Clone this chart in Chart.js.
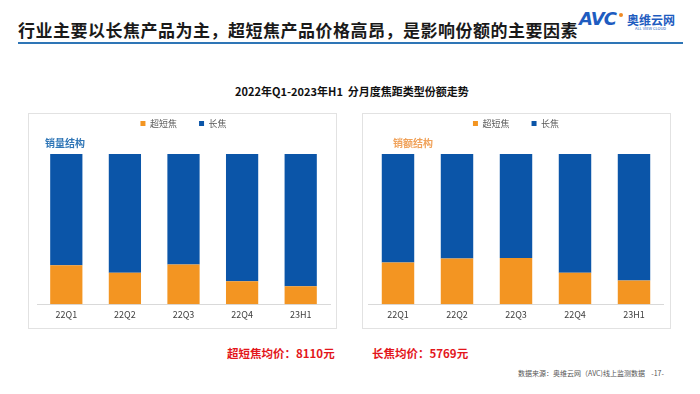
<!DOCTYPE html>
<html>
<head>
<meta charset="utf-8">
<script src="https://cdn.jsdelivr.net/npm/chart.js@4"></script>
<style>
  body { margin: 0; width: 700px; height: 394px; background: #fff; position: relative; overflow: hidden;
         font-family: "Noto Sans CJK SC", "Noto Sans", sans-serif; }
  .abs { position: absolute; white-space: nowrap; }
  .panel { position: absolute; top: 113px; width: 309px; height: 216px; border: 1px solid #e2e2e2; box-sizing: border-box; }
  canvas { position: absolute; }
</style>
</head>
<body>
<div class="abs" style="left:18px;top:17px;font-size:17px;font-weight:bold;color:#1a1a1a;letter-spacing:0.5px;">行业主要以长焦产品为主，超短焦产品价格高昂，是影响份额的主要因素</div>
<div class="abs" style="left:579px;top:8px;font-size:18px;font-weight:bold;font-style:italic;color:#1e5cc0;font-family:'DejaVu Sans';letter-spacing:-1px;">AVC</div>
<div class="abs" style="left:619px;top:13px;width:4px;height:4px;border-radius:2px;background:#f08a24;"></div>
<div class="abs" style="left:627px;top:11px;font-size:12px;font-weight:bold;color:#1e5cc0;">奥维云网</div>
<div class="abs" style="left:635px;top:25px;font-size:4px;color:#1e5cc0;">ALL VIEW CLOUD</div>
<div class="abs" style="left:18px;top:42px;width:665px;height:2px;background:#2e75b6;"></div>

<div class="abs" style="left:0;width:704px;top:83px;text-align:center;font-size:11px;font-weight:bold;color:#111;">2022年Q1-2023年H1&nbsp;&nbsp;分月度焦距类型份额走势</div>

<div class="panel" style="left:28px;"></div>
<div class="panel" style="left:362px;"></div>
<canvas id="volumeChart" width="308" height="220" style="left:29px;top:109px;"></canvas>
<canvas id="amountChart" width="308" height="220" style="left:363px;top:109px;"></canvas>
<div class="abs" style="left:45px;top:135px;font-size:10px;font-weight:bold;color:#2e75b6;">销量结构</div>
<div class="abs" style="left:393px;top:135px;font-size:10px;font-weight:bold;color:#f0a25a;">销额结构</div>

<div class="abs" style="left:227px;top:345px;font-size:11.5px;font-weight:bold;color:#e3161b;">超短焦均价：8110元</div>
<div class="abs" style="left:372px;top:345px;font-size:11.5px;font-weight:bold;color:#e3161b;">长焦均价：5769元</div>
<div class="abs" style="left:518px;top:368px;font-size:7px;color:#555;">数据来源：奥维云网（AVC)线上监测数据&nbsp;&nbsp;&nbsp;&nbsp;-17-</div>

<script>
const periods = ['22Q1', '22Q2', '22Q3', '22Q4', '23H1'];
const seriesNames = ['超短焦', '长焦'];

// share of sales volume, %
const volumeUltraShort = [26.0, 21.0, 26.5, 15.3, 11.9];
const volumeLong = [74.0, 79.0, 73.5, 84.7, 88.1];

// share of sales amount, %
const amountUltraShort = [27.7, 30.4, 30.8, 21.0, 15.8];
const amountLong = [72.3, 69.6, 69.2, 79.0, 84.2];

const ORANGE = '#f39522';
const BLUE = '#0b55a8';

// pushes the plot area down below the legend
const legendGap = {
    id: 'legendGap',
    beforeInit(chart) {
        const fit = chart.legend.fit;
        chart.legend.fit = function () {
            fit.bind(chart.legend)();
            this.height += 16;
        };
    }
};

function drawShareChart(id, shortVals, longVals, padLeft, padRight) {
    const ctx = document.getElementById(id).getContext('2d');
    new Chart(ctx, {
        type: 'bar',
        data: {
            labels: periods,
            datasets: [
                { label: seriesNames[0], data: shortVals, backgroundColor: ORANGE, barPercentage: 0.55, categoryPercentage: 1 },
                { label: seriesNames[1], data: longVals, backgroundColor: BLUE, barPercentage: 0.55, categoryPercentage: 1 },
            ]
        },
        options: {
            responsive: false,
            animation: false,
            layout: { padding: { left: padLeft, right: padRight, top: 0, bottom: 4 } },
            plugins: {
                legend: {
                    display: true,
                    position: 'top',
                    labels: {
                        boxWidth: 5,
                        boxHeight: 5,
                        padding: 10,
                        color: '#595959',
                        font: { size: 9, family: '"Noto Sans CJK SC"' },
                        generateLabels: chart => Chart.defaults.plugins.legend.labels.generateLabels(chart)
                            .map((item, i) => ({ ...item, text: i === 0 ? item.text + '      ' : item.text })),
                    },
                },
                tooltip: { enabled: false },
            },
            scales: {
                x: {
                    stacked: true,
                    grid: { display: false, drawTicks: false },
                    border: { display: true, color: '#d9d9d9' },
                    ticks: { color: '#404040', padding: 5, font: { size: 9, family: '"Noto Sans CJK SC"' } },
                },
                y: {
                    stacked: true,
                    display: false,
                    min: 0,
                    max: 100,
                },
            },
        },
        plugins: [legendGap],
    });
}

drawShareChart('volumeChart', volumeUltraShort, volumeLong, 8, 7);
drawShareChart('amountChart', amountUltraShort, amountLong, 5.5, 7.5);
</script>
</body>
</html>
